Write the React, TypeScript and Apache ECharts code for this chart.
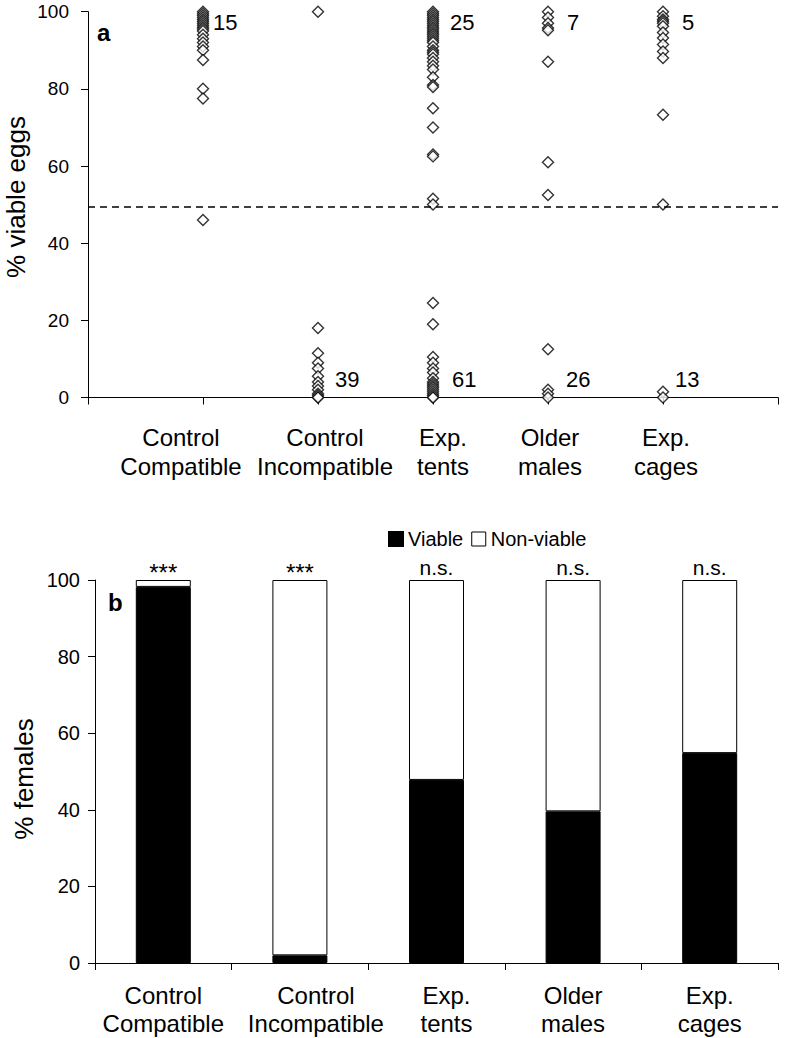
import React, { useEffect, useRef } from "react";
import * as echarts from "echarts";

// ---- Panel a: % viable eggs per female (scatter) ----
const groupNames = ["Control\nCompatible", "Control\nIncompatible", "Exp.\ntents", "Older\nmales", "Exp.\ncages"];
const controlCompatible = [100, 99.5, 99, 98.5, 98, 97.5, 97, 96.5, 96, 95.5, 95, 94, 93, 92, 91, 90, 87.5, 80, 77.5, 46];
const controlIncompatible = [100, 18, 11.5, 9, 7.5, 5.5, 4, 3, 2, 1, 0.5, 0, 0];
const expTents = [100, 99.5, 99, 98.5, 98, 97.5, 97, 96.5, 96, 95.5, 95, 94.5, 94, 93.5, 93, 92.5, 92, 91, 90, 89.5, 89, 88, 87, 86, 85, 83, 81, 80.5, 75, 70, 63, 62.5, 51.5, 50, 24.5, 19, 10.5, 9, 7.5, 6.5, 5, 4, 3.5, 3, 2.5, 2, 1.5, 1, 0.5, 0, 0];
const olderMales = [100, 98.5, 97, 95.8, 95.2, 87, 61, 52.5, 12.5, 2, 1, 0];
const expCages = [100, 98.8, 98, 97.5, 97, 96.2, 94.6, 93.2, 91.5, 89.7, 88, 73.3, 50, 1.5, 0];
const thresholdLine = 49.5;
const countsHigh = ["15", "", "25", "7", "5"];
const countsLow = ["", "39", "61", "26", "13"];

// ---- Panel b: % females (stacked bars) ----
const barCategories = ["Control\nCompatible", "Control\nIncompatible", "Exp.\ntents", "Older\nmales", "Exp.\ncages"];
const viable = [98.2, 2, 47.8, 39.6, 54.8];
const nonViable = [1.8, 98, 52.2, 60.4, 45.2];
const significance = ["***", "***", "n.s.", "n.s.", "n.s."];

const FONT = "'Liberation Sans', Arial, sans-serif";

export default function App() {
  const ref = useRef<HTMLDivElement>(null);
  useEffect(() => {
    document.body.style.margin = "0";
    if (!ref.current) return;
    const chart = echarts.init(ref.current, null, { renderer: "svg" });
    const groups = [controlCompatible, controlIncompatible, expTents, olderMales, expCages];
    const scatterData: number[][] = [];
    groups.forEach((arr, i) => arr.forEach((v) => scatterData.push([i + 1, v])));

    const topLabelX = [181, 325, 443, 550, 666];
    const highLabelX = [213, 0, 450, 567, 682];
    const lowLabelX = [0, 335, 452, 566, 675];
    const bottomLabelShift = [0, 32, 20, 0, 0];

    const graphics: any[] = [];
    groupNames.forEach((n, i) => {
      graphics.push({
        type: "text",
        x: topLabelX[i],
        y: 423,
        style: { text: n, font: `24px ${FONT}`, fill: "#000", align: "center", verticalAlign: "top", lineHeight: 29 },
      });
    });
    countsHigh.forEach((c, i) => {
      if (!c) return;
      graphics.push({ type: "text", x: highLabelX[i], y: 22.5, style: { text: c, font: `22px ${FONT}`, fill: "#000", verticalAlign: "middle" } });
    });
    countsLow.forEach((c, i) => {
      if (!c) return;
      graphics.push({ type: "text", x: lowLabelX[i], y: 379.5, style: { text: c, font: `22px ${FONT}`, fill: "#000", verticalAlign: "middle" } });
    });
    graphics.push({ type: "text", x: 97, y: 32, style: { text: "a", font: `bold 24px ${FONT}`, fill: "#000", verticalAlign: "middle" } });
    graphics.push({ type: "text", x: 108, y: 602, style: { text: "b", font: `bold 24px ${FONT}`, fill: "#000", verticalAlign: "middle" } });
    graphics.push({
      type: "text", x: 16, y: 197, rotation: Math.PI / 2,
      style: { text: "% viable eggs", font: `26px ${FONT}`, fill: "#000", align: "center", verticalAlign: "middle" },
    });
    graphics.push({
      type: "text", x: 24, y: 779, rotation: Math.PI / 2,
      style: { text: "% females", font: `26px ${FONT}`, fill: "#000", align: "center", verticalAlign: "middle" },
    });

    const axisLine = { show: true, lineStyle: { color: "#000", width: 1 } };
    const axisTick = { show: true, length: 7, lineStyle: { color: "#000", width: 1 } };

    const nonViableData = nonViable.map((v, i) => ({
      value: v,
      label: significance[i] === "***"
        ? { fontSize: 24, distance: -4 }
        : { fontSize: 21, distance: 2 },
    }));

    chart.setOption({
      animation: false,
      backgroundColor: "#fff",
      textStyle: { fontFamily: FONT },
      grid: [
        { left: 88, top: 11.7, width: 690, height: 385.8 },
        { left: 95, top: 580, width: 683, height: 383 },
      ],
      legend: {
        left: 383,
        top: 524,
        itemWidth: 14,
        itemHeight: 14,
        itemGap: 8,
        textStyle: { fontSize: 20, color: "#000", fontFamily: FONT },
        data: [
          { name: "Viable", icon: "rect", itemStyle: { color: "#000" } },
          { name: "Non-viable", icon: "rect", itemStyle: { color: "#fff", borderColor: "#000", borderWidth: 1 } },
        ],
        selectedMode: false,
      },
      xAxis: [
        {
          type: "value", gridIndex: 0, min: 0, max: 6, interval: 1,
          axisLine, axisTick, axisLabel: { show: false }, splitLine: { show: false },
        },
        {
          type: "category", gridIndex: 1, data: barCategories,
          axisLine, axisTick: { ...axisTick, alignWithLabel: false },
          axisLabel: {
            interval: 0, fontSize: 24, lineHeight: 28, color: "#000", margin: 18, fontFamily: FONT,
            formatter: (val: string, idx: number) =>
              bottomLabelShift[idx]
                ? val.split("\n").map((l) => `{s${idx}|${l}}`).join("\n")
                : val,
            rich: {
              s1: { fontSize: 24, lineHeight: 28, fontFamily: FONT, color: "#000", padding: [0, 0, 0, bottomLabelShift[1]] },
              s2: { fontSize: 24, lineHeight: 28, fontFamily: FONT, color: "#000", padding: [0, 0, 0, bottomLabelShift[2]] },
            },
          },
        },
      ],
      yAxis: [
        {
          type: "value", gridIndex: 0, min: 0, max: 100, interval: 20,
          axisLine, axisTick, splitLine: { show: false },
          axisLabel: { fontSize: 19, color: "#000", margin: 19, fontFamily: FONT },
        },
        {
          type: "value", gridIndex: 1, min: 0, max: 100, interval: 20,
          axisLine, axisTick, splitLine: { show: false },
          axisLabel: { fontSize: 20, color: "#000", margin: 15, fontFamily: FONT },
        },
      ],
      series: [
        {
          type: "scatter", xAxisIndex: 0, yAxisIndex: 0,
          symbol: "diamond", symbolSize: 11,
          itemStyle: { color: "#fff", borderColor: "#000", borderWidth: 1.4 },
          data: scatterData,
          markLine: {
            silent: true, symbol: "none", label: { show: false },
            lineStyle: { color: "#000", type: [7, 5], width: 1.5 },
            data: [{ yAxis: thresholdLine }],
          },
        },
        {
          name: "Viable", type: "bar", stack: "b", xAxisIndex: 1, yAxisIndex: 1, barWidth: 55,
          itemStyle: { color: "#000", borderColor: "#000", borderWidth: 1 },
          data: viable,
        },
        {
          name: "Non-viable", type: "bar", stack: "b", xAxisIndex: 1, yAxisIndex: 1, barWidth: 55,
          itemStyle: { color: "#fff", borderColor: "#000", borderWidth: 1 },
          label: {
            show: true, position: "top", distance: 2, fontSize: 21, color: "#000", fontFamily: FONT,
            formatter: (p: any) => significance[p.dataIndex],
          },
          data: nonViableData,
        },
      ],
      graphic: graphics,
    });
    return () => chart.dispose();
  }, []);
  return <div ref={ref} style={{ width: 791, height: 1038 }} />;
}
